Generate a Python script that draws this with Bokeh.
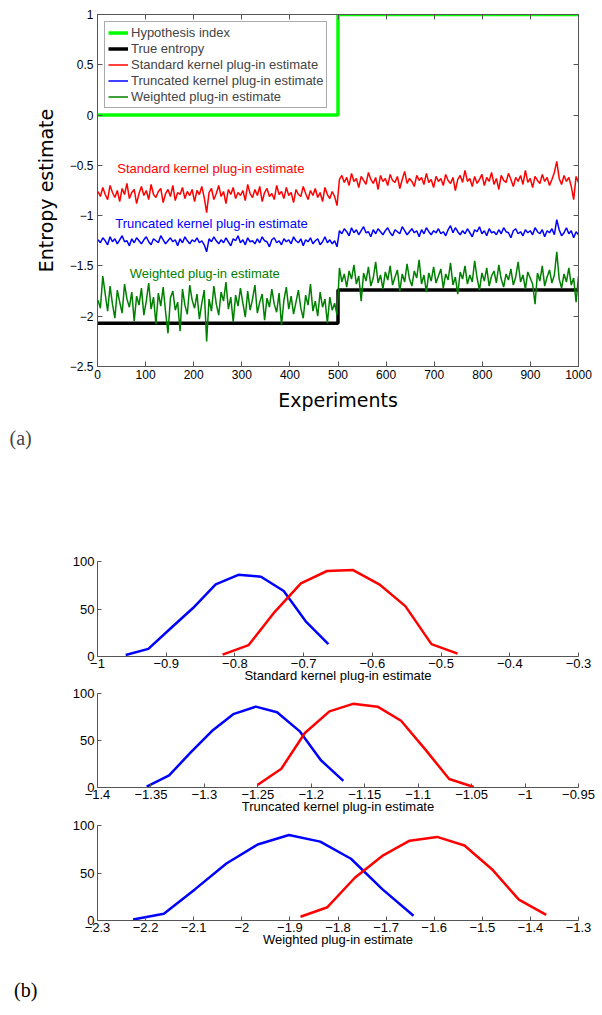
from bokeh.plotting import figure
from bokeh.models import (Range1d, LinearAxis, FixedTicker, Legend, LegendItem, Label, Title,
                          CustomLabelingPolicy, Div)
from bokeh.layouts import column
from bokeh.embed import file_html
from bokeh.resources import INLINE
import numpy as np

M = "\u2212"

# ---------------- data: panel (a) ----------------
n_exp = 1000
hyp_x = [0, 500, 1000]
hyp_y = [0, 1, 1]
true_x = [0, 500, 1000]
true_y = [-2.07, -1.74, -1.74]

standard_est = [
    -0.76, -0.81, -0.72, -0.79, -0.84, -0.70, -0.77, -0.82, -0.75, -0.86,
    -0.73, -0.79, -0.68, -0.83, -0.77, -0.74, -0.88, -0.78, -0.71, -0.80,
    -0.75, -0.84, -0.69, -0.79, -0.82, -0.76, -0.73, -0.87, -0.78, -0.74,
    -0.81, -0.70, -0.85, -0.77, -0.79, -0.72, -0.83, -0.76, -0.80, -0.74,
    -0.86, -0.75, -0.79, -0.71, -0.82, -0.97, -0.77, -0.73, -0.84, -0.78,
    -0.70, -0.81, -0.76, -0.88, -0.74, -0.79, -0.72, -0.83, -0.77, -0.80,
    -0.75, -0.85, -0.69, -0.78, -0.82, -0.74, -0.80, -0.71, -0.86, -0.77,
    -0.73, -0.81, -0.78, -0.84, -0.70, -0.79, -0.76, -0.83, -0.72, -0.80,
    -0.77, -0.87, -0.74, -0.79, -0.81, -0.71, -0.78, -0.84, -0.75, -0.80,
    -0.73, -0.82, -0.77, -0.86, -0.72, -0.79, -0.83, -0.76, -0.81, -0.90,
    -0.64, -0.60, -0.67, -0.62, -0.70, -0.58, -0.66, -0.63, -0.72, -0.61,
    -0.65, -0.69, -0.57, -0.64, -0.68, -0.62, -0.74, -0.60, -0.66, -0.63,
    -0.70, -0.59, -0.65, -0.67, -0.61, -0.73, -0.64, -0.56, -0.68, -0.63,
    -0.66, -0.71, -0.60, -0.65, -0.62, -0.69, -0.58, -0.67, -0.64, -0.72,
    -0.61, -0.66, -0.63, -0.70, -0.59, -0.65, -0.68, -0.62, -0.75, -0.64,
    -0.60, -0.67, -0.55, -0.66, -0.63, -0.71, -0.61, -0.68, -0.64, -0.59,
    -0.70, -0.62, -0.66, -0.57, -0.69, -0.63, -0.74, -0.60, -0.65, -0.67,
    -0.58, -0.64, -0.71, -0.62, -0.66, -0.60, -0.69, -0.55, -0.67, -0.63,
    -0.72, -0.61, -0.65, -0.68, -0.59, -0.66, -0.62, -0.70, -0.64, -0.57,
    -0.46, -0.63, -0.69, -0.60, -0.66, -0.62, -0.71, -0.84, -0.61, -0.67,
]

truncated_est = [
    -1.24, -1.27, -1.22, -1.25, -1.29, -1.21, -1.26, -1.23, -1.28, -1.24,
    -1.20, -1.26, -1.25, -1.30, -1.23, -1.27, -1.22, -1.25, -1.28, -1.24,
    -1.21, -1.26, -1.29, -1.23, -1.25, -1.27, -1.20, -1.24, -1.28, -1.25,
    -1.22, -1.26, -1.24, -1.30, -1.23, -1.27, -1.21, -1.25, -1.28, -1.24,
    -1.26, -1.22, -1.27, -1.25, -1.29, -1.36, -1.23, -1.26, -1.21, -1.25,
    -1.28, -1.24, -1.27, -1.22, -1.26, -1.30, -1.23, -1.25, -1.20, -1.27,
    -1.24, -1.29, -1.22, -1.26, -1.25, -1.28, -1.23, -1.27, -1.21, -1.25,
    -1.26, -1.31, -1.24, -1.22, -1.27, -1.25, -1.29, -1.23, -1.26, -1.24,
    -1.28, -1.21, -1.25, -1.27, -1.23, -1.30, -1.24, -1.26, -1.22, -1.28,
    -1.25, -1.23, -1.29, -1.26, -1.21, -1.27, -1.24, -1.28, -1.25, -1.31,
    -1.15, -1.18, -1.13, -1.16, -1.20, -1.12, -1.17, -1.14, -1.19, -1.15,
    -1.11, -1.17, -1.16, -1.21, -1.14, -1.18, -1.13, -1.16, -1.19, -1.15,
    -1.12, -1.17, -1.20, -1.14, -1.16, -1.18, -1.11, -1.15, -1.19, -1.16,
    -1.13, -1.17, -1.15, -1.21, -1.14, -1.18, -1.12, -1.16, -1.19, -1.15,
    -1.17, -1.13, -1.18, -1.16, -1.20, -1.14, -1.10, -1.17, -1.12, -1.16,
    -1.19, -1.15, -1.18, -1.13, -1.17, -1.21, -1.14, -1.16, -1.11, -1.18,
    -1.15, -1.20, -1.13, -1.17, -1.16, -1.19, -1.14, -1.18, -1.12, -1.16,
    -1.17, -1.22, -1.15, -1.13, -1.18, -1.16, -1.20, -1.14, -1.17, -1.15,
    -1.19, -1.12, -1.16, -1.18, -1.14, -1.21, -1.15, -1.17, -1.13, -1.19,
    -1.04, -1.14, -1.20, -1.17, -1.12, -1.18, -1.15, -1.22, -1.16, -1.19,
]

weighted_est = [
    -1.84, -1.92, -1.60, -1.78, -1.95, -1.70, -1.88, -2.02, -1.74, -1.86,
    -1.97, -1.68, -1.83, -1.91, -1.76, -2.05, -1.80, -1.89, -1.72, -1.99,
    -1.85, -1.67, -1.93, -1.81, -2.08, -1.77, -1.90, -1.71, -1.96, -2.17,
    -1.82, -1.75, -1.94, -1.86, -2.15, -1.73, -1.89, -1.98, -1.69, -1.84,
    -1.92, -1.78, -2.03, -1.87, -1.74, -2.25, -1.83, -1.95, -1.70, -1.88,
    -1.99, -1.76, -1.85, -1.66, -1.93, -1.81, -2.06, -1.79, -1.90, -1.72,
    -1.87, -2.01, -1.75, -1.94, -1.83, -1.69, -1.97, -1.86, -1.78, -2.04,
    -1.82, -1.91, -1.73, -1.88, -1.96, -1.77, -2.09, -1.84, -1.71, -1.93,
    -1.80, -1.98, -1.86, -1.74, -1.92, -2.02, -1.79, -1.89, -1.68, -1.95,
    -1.85, -2.00, -1.76, -1.91, -1.83, -2.07, -1.81, -1.94, -1.87, -1.99,
    -1.52, -1.66, -1.58, -1.71, -1.55, -1.63, -1.49, -1.68, -1.60, -1.85,
    -1.57, -1.65, -1.51, -1.70, -1.62, -1.46, -1.67, -1.59, -1.73, -1.56,
    -1.64, -1.50, -1.69, -1.61, -1.54, -1.75, -1.58, -1.66, -1.48, -1.63,
    -1.70, -1.55, -1.62, -1.44, -1.68, -1.59, -1.76, -1.57, -1.65, -1.51,
    -1.67, -1.60, -1.53, -1.72, -1.58, -1.64, -1.47, -1.69, -1.61, -1.78,
    -1.56, -1.63, -1.50, -1.68, -1.59, -1.66, -1.45, -1.62, -1.74, -1.57,
    -1.65, -1.52, -1.70, -1.60, -1.55, -1.67, -1.49, -1.63, -1.71, -1.58,
    -1.64, -1.53, -1.69, -1.61, -1.46, -1.66, -1.59, -1.73, -1.56, -1.62,
    -1.68, -1.88, -1.57, -1.65, -1.50, -1.70, -1.61, -1.54, -1.67, -1.59,
    -1.36, -1.63, -1.72, -1.58, -1.66, -1.52, -1.69, -1.62, -1.86, -1.60,
]

top_x_ticks = [0, 100, 200, 300, 400, 500, 600, 700, 800, 900, 1000]
top_x_labels = ["0", "100", "200", "300", "400", "500", "600", "700", "800", "900", "1000"]
top_y_ticks = [-2.5, -2, -1.5, -1, -0.5, 0, 0.5, 1]
top_y_labels = [M + "2.5", M + "2", M + "1.5", M + "1", M + "0.5", "0", "0.5", "1"]

# ---------------- data: panel (b) ----------------
std_h0_x = [-0.959, -0.926, -0.893, -0.861, -0.828, -0.795, -0.762, -0.729, -0.697, -0.664]
std_h0_n = [1.5, 8, 30, 51, 76, 86, 84, 69, 37, 13]
std_h1_x = [-0.818, -0.780, -0.742, -0.704, -0.666, -0.628, -0.590, -0.552, -0.514, -0.476]
std_h1_n = [2, 12, 47, 77, 90, 91, 76, 53, 13, 3]

trn_h0_x = [-1.354, -1.333, -1.313, -1.293, -1.273, -1.252, -1.232, -1.211, -1.191, -1.170]
trn_h0_n = [1, 13, 37, 60, 78, 86, 80, 60, 29, 7]
trn_h1_x = [-1.250, -1.228, -1.206, -1.183, -1.161, -1.138, -1.116, -1.093, -1.071, -1.048]
trn_h1_n = [3, 20, 58, 81, 89, 86, 71, 40, 9, 0.5]

wgt_h0_x = [-2.226, -2.162, -2.097, -2.032, -1.967, -1.902, -1.837, -1.773, -1.708, -1.643]
wgt_h0_n = [1, 7, 33, 60, 80, 90, 83, 65, 33, 5]
wgt_h1_x = [-1.878, -1.822, -1.765, -1.708, -1.651, -1.594, -1.537, -1.480, -1.424, -1.367]
wgt_h1_n = [4, 14, 45, 68, 84, 88, 79, 54, 22, 6]

std_ticks = [-1, -0.9, -0.8, -0.7, -0.6, -0.5, -0.4, -0.3]
std_labels = [M + "1", M + "0.9", M + "0.8", M + "0.7", M + "0.6", M + "0.5", M + "0.4", M + "0.3"]
trn_ticks = [-1.4, -1.35, -1.3, -1.25, -1.2, -1.15, -1.1, -1.05, -1, -0.95]
trn_labels = [M + "1.4", M + "1.35", M + "1.3", M + "1.25", M + "1.2", M + "1.15", M + "1.1",
              M + "1.05", M + "1", M + "0.95"]
wgt_ticks = [-2.3, -2.2, -2.1, -2, -1.9, -1.8, -1.7, -1.6, -1.5, -1.4, -1.3]
wgt_labels = [M + "2.3", M + "2.2", M + "2.1", M + "2", M + "1.9", M + "1.8", M + "1.7",
              M + "1.6", M + "1.5", M + "1.4", M + "1.3"]
count_ticks = [0, 50, 100]
count_labels = ["0", "50", "100"]

# ---------------- styling helpers ----------------
AX = "#555555"
TICK_FONT = "Liberation Sans"
W = 600


def style_axis(ax, ticks, labels, size="12px", tick_len=5, standoff=3, hide=False):
    ax.ticker = FixedTicker(ticks=ticks)
    ax.major_tick_in = tick_len
    ax.major_tick_out = 0
    ax.minor_tick_line_color = None
    ax.axis_line_color = AX
    ax.major_tick_line_color = AX
    ax.major_label_text_font = TICK_FONT
    ax.major_label_text_color = "black"
    ax.major_label_standoff = standoff
    if hide:
        ax.major_label_text_font_size = "1px"
        ax.major_label_standoff = 0
        ax.major_label_policy = CustomLabelingPolicy(
            code="const ids = Array.from(indices); for (const i of ids) indices.unset(i); return indices")
    else:
        ax.major_label_overrides = {t: l for t, l in zip(ticks, labels)}
        ax.major_label_text_font_size = size


# ---------------- panel (a) ----------------
xs = np.linspace(1, n_exp, len(standard_est))

p = figure(width=W, height=460, output_backend="svg", toolbar_location=None,
           x_range=Range1d(0, 1000), y_range=Range1d(-2.5, 1),
           min_border_left=97, min_border_right=W - 578, min_border_top=14, min_border_bottom=94)
p.background_fill_color = "white"
p.border_fill_color = "white"
p.outline_line_color = AX
p.xgrid.visible = False
p.ygrid.visible = False

style_axis(p.xaxis[0], top_x_ticks, top_x_labels, standoff=3)
style_axis(p.yaxis[0], top_y_ticks, top_y_labels, standoff=4)
p.xaxis[0].axis_label = "Experiments"
p.yaxis[0].axis_label = "Entropy estimate"
for ax in (p.xaxis[0], p.yaxis[0]):
    ax.axis_label_text_font = "DejaVu Sans"
    ax.axis_label_text_font_size = "19px"
    ax.axis_label_text_font_style = "normal"
    ax.axis_label_text_color = "black"
p.xaxis[0].axis_label_standoff = 7
p.yaxis[0].axis_label_standoff = 10

ax_r = LinearAxis()
style_axis(ax_r, top_y_ticks, top_y_labels, hide=True)
p.add_layout(ax_r, "right")
ax_t = LinearAxis()
style_axis(ax_t, top_x_ticks, top_x_labels, hide=True)
p.add_layout(ax_t, "above")

r_hyp = p.step(hyp_x, hyp_y, mode="after", line_color="#00ff00", line_width=3.5)
r_true = p.step(true_x, true_y, mode="after", line_color="black", line_width=3.5)
r_std = p.line(xs, standard_est, line_color="#ff0000", line_width=1.5)
r_trn = p.line(xs, truncated_est, line_color="#0000ff", line_width=1.5)
r_wgt = p.line(xs, weighted_est, line_color="#008000", line_width=1.5)

legend = Legend(items=[
    LegendItem(label="Hypothesis index", renderers=[r_hyp]),
    LegendItem(label="True entropy", renderers=[r_true]),
    LegendItem(label="Standard kernel plug-in estimate", renderers=[r_std]),
    LegendItem(label="Truncated kernel plug-in estimate", renderers=[r_trn]),
    LegendItem(label="Weighted plug-in estimate", renderers=[r_wgt]),
], location="top_left")
legend.margin = 7
legend.padding = 3
legend.spacing = 1
legend.glyph_width = 20
legend.glyph_height = 15
legend.label_height = 15
legend.label_standoff = 3
legend.label_text_font = TICK_FONT
legend.label_text_font_size = "13px"
legend.border_line_color = AX
legend.background_fill_alpha = 1
p.add_layout(legend)

for txt, x, y, col in [("Standard kernel plug-in estimate", 41, -0.53, "#ff0000"),
                       ("Truncated kernel plug-in estimate", 37, -1.08, "#0000ff"),
                       ("Weighted plug-in estimate", 67, -1.58, "#008000")]:
    p.add_layout(Label(x=x, y=y, text=txt, text_color=col, text_font=TICK_FONT,
                       text_font_size="13px", text_baseline="middle", text_align="left"))

p.add_layout(Title(text="(a)", align="left", offset=-88, standoff=22,
                   text_font="Liberation Serif", text_font_size="20px",
                   text_font_style="normal"), "below")


# ---------------- panel (b) ----------------
def hist_panel(xr, ticks, labels, title, bx, by, rx, ry, height, top, bottom):
    f = figure(width=W, height=height, output_backend="svg", toolbar_location=None,
               x_range=Range1d(*xr), y_range=Range1d(0, 100),
               min_border_left=95, min_border_right=W - 578, min_border_top=top,
               min_border_bottom=bottom)
    f.outline_line_color = None
    f.background_fill_color = "white"
    f.border_fill_color = "white"
    f.xgrid.visible = False
    f.ygrid.visible = False
    style_axis(f.xaxis[0], ticks, labels, size="13px", tick_len=4, standoff=2)
    style_axis(f.yaxis[0], count_ticks, count_labels, size="13px", tick_len=4, standoff=3)
    xa = f.xaxis[0]
    xa.axis_label = title
    xa.axis_label_text_font = TICK_FONT
    xa.axis_label_text_font_size = "13px"
    xa.axis_label_text_font_style = "normal"
    xa.axis_label_text_color = "black"
    xa.axis_label_standoff = -3
    f.line(bx, by, line_color="#0000ff", line_width=2.5)
    f.line(rx, ry, line_color="#ff0000", line_width=2.5)
    return f


f1 = hist_panel((-1, -0.3), std_ticks, std_labels, "Standard kernel plug-in estimate",
                std_h0_x, std_h0_n, std_h1_x, std_h1_n, 225, 101, 29)
f2 = hist_panel((-1.4, -0.95), trn_ticks, trn_labels, "Truncated kernel plug-in estimate",
                trn_h0_x, trn_h0_n, trn_h1_x, trn_h1_n, 132, 8, 30)
f3 = hist_panel((-2.3, -1.3), wgt_ticks, wgt_labels, "Weighted plug-in estimate",
                wgt_h0_x, wgt_h0_n, wgt_h1_x, wgt_h1_n, 158, 8, 55)

div_b = Div(text="(b)", width=W, height=30,
            styles={"font-family": "Liberation Serif", "font-size": "20px",
                    "line-height": "20px", "padding-left": "9px", "color": "black",
                    "box-sizing": "border-box"})

layout = column(p, f1, f2, f3, div_b, spacing=0)
open("out.html", "w").write(file_html(layout, INLINE))
